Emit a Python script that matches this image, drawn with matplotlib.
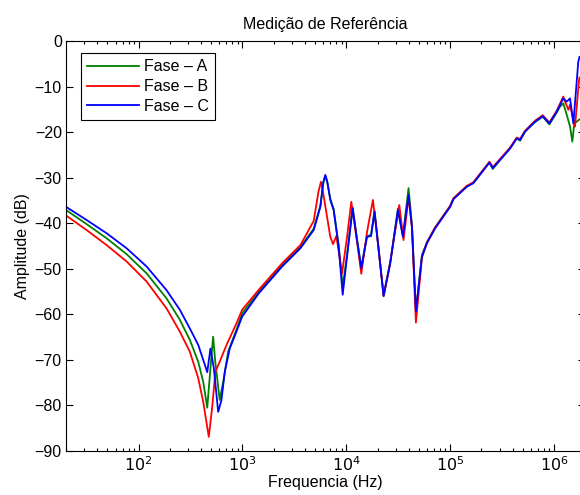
import matplotlib

matplotlib.use("Agg")
import matplotlib.pyplot as plt
from matplotlib.ticker import LogLocator, NullFormatter, FixedLocator

plt.rcParams["font.family"] = ["Liberation Sans", "DejaVu Sans"]
plt.rcParams["axes.unicode_minus"] = True

# Fase C (blue): frequency (Hz) and amplitude (dB)
freq_c = [20, 31.6, 49.2, 76.7, 119.4, 185.8, 249.5, 311.4, 375, 419, 458, 492,
          530, 584, 628, 676, 755, 875, 993, 1436, 2410, 3614, 4853, 5623, 6000,
          6281, 6550, 7015, 7551, 8433, 9226, 10162, 11508, 12677, 13932, 15812,
          17298, 18707, 20464, 22856, 26485, 31405, 35075, 39719, 42855, 46774,
          53456, 59704, 71779, 100000, 107647, 144544, 167494, 238781, 257040,
          377572, 437522, 470977, 526017, 656145, 778037, 901571, 1061696,
          1227000, 1325000, 1426000, 1535000, 1713000, 1760000]
amp_c = [-36.4, -39.3, -42.2, -45.5, -49.5, -54.7, -59.0, -63.1, -66.7, -70.0, -72.7,
         -67.5, -71.8, -81.4, -78.8, -72.6, -67.5, -63.8, -60.5, -55.4, -49.5, -45.5,
         -41.5, -36.4, -31.0, -29.4, -30.8, -34.9, -37.1, -45.1, -55.7, -47.3, -36.7,
         -43.7, -49.9, -43.0, -42.8, -37.5, -45.9, -56.0, -48.8, -37.1, -43.0, -33.8,
         -40.8, -59.4, -47.3, -44.4, -41.1, -36.4, -34.7, -32.0, -31.2, -26.7, -27.9,
         -23.6, -21.4, -21.7, -19.9, -17.7, -16.5, -18.1, -15.5, -12.6, -13.3, -12.6,
         -18.1, -4.5, -3.5]

# Fase A (green)
freq_a = [20, 31.6, 49.2, 76.7, 119.4, 185.8, 249.5, 311.4, 375, 419, 458, 492,
          522, 547, 604, 653, 728, 875, 993, 1436, 2410, 3614, 4853, 5623, 6000,
          6281, 6550, 7015, 7551, 8433, 9226, 10162, 11508, 12677, 13932, 15812,
          17298, 18707, 20464, 22856, 26485, 31405, 35075, 39719, 42855, 46774,
          53456, 59704, 71779, 100000, 107647, 144544, 167494, 238781, 257040,
          377572, 437522, 470977, 526017, 656145, 778037, 901571, 1061696,
          1143000, 1227000, 1325000, 1426000, 1500000, 1567000, 1652000, 1740000,
          1760000]
amp_a = [-37.1, -40.2, -43.3, -46.8, -51.0, -56.5, -61.2, -65.6, -70.4, -74.8, -80.5,
         -71.8, -64.9, -70.4, -78.8, -74.8, -68.2, -63.4, -59.8, -55.0, -49.2, -45.2,
         -41.2, -36.2, -31.2, -29.6, -31.0, -34.7, -36.9, -44.8, -53.9, -47.0, -36.5,
         -43.5, -49.7, -42.8, -42.6, -37.2, -45.7, -55.8, -48.6, -36.8, -42.8, -32.3,
         -40.4, -59.2, -47.0, -44.2, -40.9, -36.2, -34.6, -31.9, -31.1, -26.6, -28.1,
         -23.5, -21.3, -21.9, -19.8, -17.8, -16.6, -18.3, -15.7, -14.4, -13.7, -16.2,
         -18.8, -22.1, -18.1, -17.7, -17.3, -17.2]

# Fase B (red)
freq_b = [20, 31.6, 49.2, 76.7, 119.4, 185.8, 249.5, 311.4, 375, 419, 474, 510,
          549, 604, 703, 875, 993, 1436, 2410, 3614, 4853, 5400, 5702, 6000, 7015,
          7447, 8017, 9099, 10162, 11169, 12677, 13932, 15812, 18030, 20464, 22856,
          26485, 32359, 35563, 39719, 42855, 46774, 53456, 59704, 71779, 100000,
          107647, 144544, 167494, 238781, 257040, 377572, 437522, 470977, 526017,
          656145, 778037, 901571, 1061696, 1227000, 1276000, 1374000, 1426000,
          1592000, 1740000, 1760000]
amp_b = [-38.3, -41.5, -44.8, -48.4, -52.8, -58.7, -63.8, -68.2, -74.0, -79.2, -86.9,
         -80.6, -72.6, -70.4, -66.7, -62.0, -59.0, -54.6, -48.8, -44.8, -39.5, -33.0,
         -30.9, -33.5, -43.0, -44.6, -42.8, -51.0, -43.0, -35.3, -44.0, -51.1, -42.0,
         -34.9, -45.5, -56.0, -48.5, -36.0, -43.7, -34.2, -41.0, -61.8, -47.6, -44.2,
         -40.9, -36.2, -34.5, -31.8, -31.0, -26.5, -27.7, -23.4, -21.2, -21.5, -19.7,
         -17.5, -16.3, -17.9, -15.3, -12.2, -13.3, -15.1, -14.0, -18.8, -8.6, -8.0]

y_ticks = [-90, -80, -70, -60, -50, -40, -30, -20, -10, 0]
x_ticks = [1e2, 1e3, 1e4, 1e5, 1e6]
x_tick_labels = [r"$10^{2}$", r"$10^{3}$", r"$10^{4}$", r"$10^{5}$", r"$10^{6}$"]

fig = plt.figure(figsize=(5.8, 4.95), dpi=100)
ax = fig.add_axes([66 / 580, 44 / 495, (585.3 - 66) / 580, 410 / 495])

ax.plot(freq_a, amp_a, color=(0, 0.5, 0), lw=1.3, label="Fase – A")
ax.plot(freq_b, amp_b, color=(1, 0, 0), lw=1.3, label="Fase – B")
ax.plot(freq_c, amp_c, color=(0, 0, 1), lw=1.3, label="Fase – C")

ax.set_xscale("log")
ax.set_xlim(20, 2e6)
ax.set_ylim(-90, 0)
ax.set_xticks(x_ticks)
ax.set_xticklabels(x_tick_labels)
ax.xaxis.set_minor_locator(LogLocator(base=10, subs=range(2, 10), numticks=20))
ax.xaxis.set_minor_formatter(NullFormatter())
ax.yaxis.set_major_locator(FixedLocator(y_ticks))
ax.set_yticklabels([f"{v}".replace("-", "\u2212") for v in y_ticks])

ax.tick_params(which="both", direction="in", top=True, right=True,
               labelsize=11.5, colors="black", width=0.8)
ax.tick_params(which="major", length=5, pad=3)
ax.tick_params(which="minor", length=2.5)
for spine in ax.spines.values():
    spine.set_linewidth(0.8)

ax.set_title("Medição de Referência", fontsize=11.5, pad=9)
ax.set_xlabel("Frequencia (Hz)", fontsize=11.5, labelpad=1)
ax.set_ylabel("Amplitude (dB)", fontsize=11.5, labelpad=3)

leg = ax.legend(loc="upper left", bbox_to_anchor=(15 / 519.3, 1 - 12 / 410),
                borderaxespad=0, fontsize=11.5, handlelength=3.2, handletextpad=0.35,
                labelspacing=0.3, borderpad=0.4, fancybox=False, framealpha=1)
leg.get_frame().set_edgecolor("black")
leg.get_frame().set_linewidth(0.8)

fig.savefig("out.png", dpi=100)
